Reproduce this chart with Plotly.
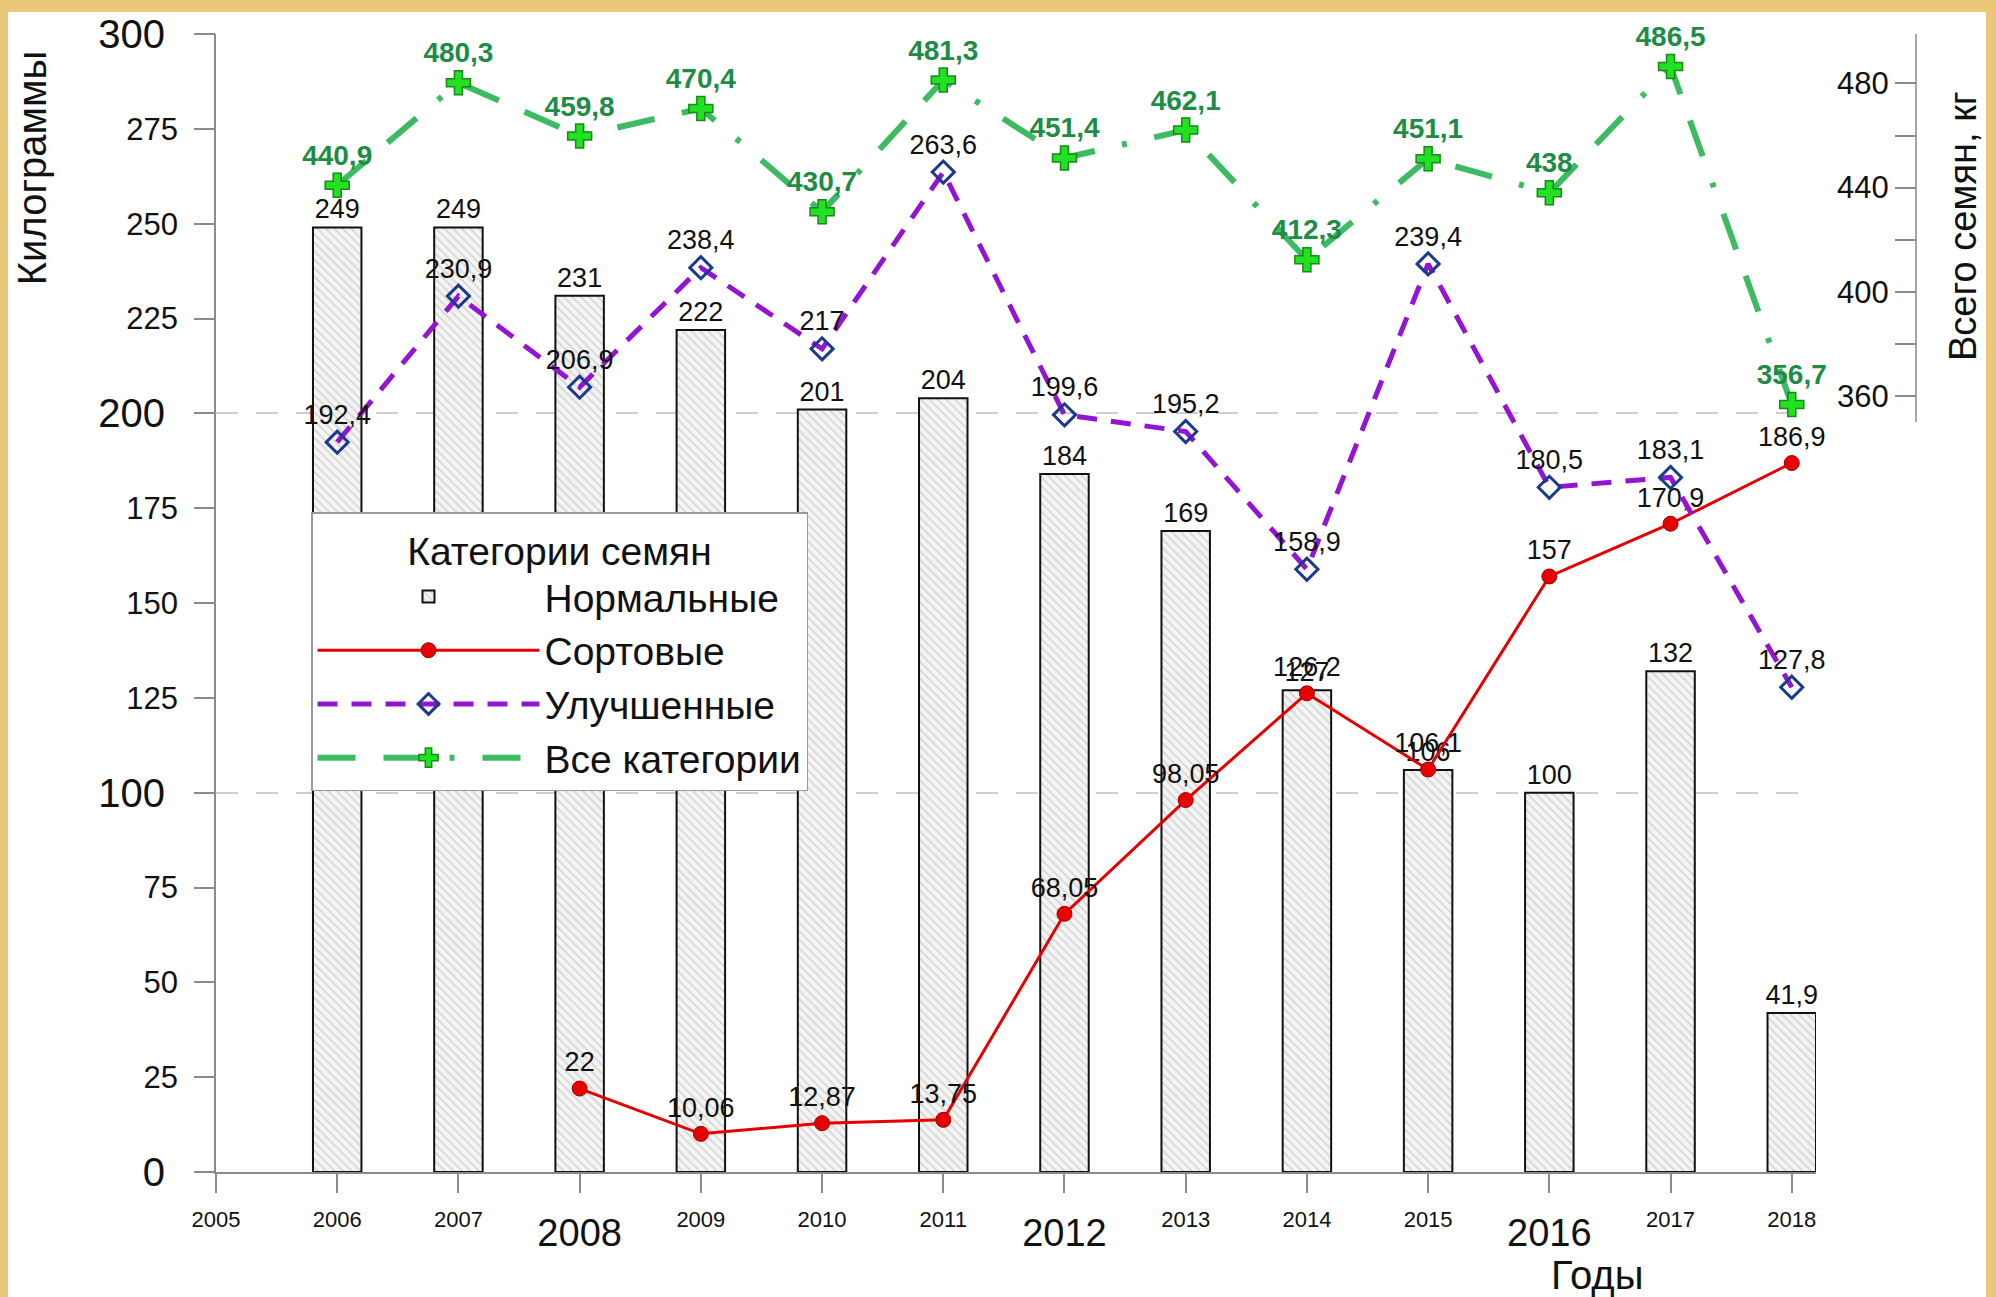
import plotly.graph_objects as go

# ---------------- data ----------------
years = [2006, 2007, 2008, 2009, 2010, 2011, 2012, 2013, 2014, 2015, 2016, 2017, 2018]
normal = [249, 249, 231, 222, 201, 204, 184, 169, 127, 106, 100, 132, 41.9]
sort_years = [2008, 2009, 2010, 2011, 2012, 2013, 2014, 2015, 2016, 2017, 2018]
sortovye = [22, 10.06, 12.87, 13.75, 68.05, 98.05, 126.2, 106.1, 157, 170.9, 186.9]
improved = [192.4, 230.9, 206.9, 238.4, 217, 263.6, 199.6, 195.2, 158.9, 239.4, 180.5, 183.1, 127.8]
total = [440.9, 480.3, 459.8, 470.4, 430.7, 481.3, 451.4, 462.1, 412.3, 451.1, 438, 486.5, 356.7]

x_ticks = list(range(2005, 2019))
x_big = [2008, 2012, 2016]
y_ticks = list(range(0, 301, 25))
y_big = [0, 100, 200, 300]
y2_ticks = [360, 380, 400, 420, 440, 460, 480, 500]
y2_labeled = [360, 400, 440, 480]

names = ["Нормальные", "Сортовые", "Улучшенные", "Все категории"]
legend_title = "Категории семян"
y_title = "Килограммы"
y2_title = "Всего семян, кг"
x_title = "Годы"

FONT = "Liberation Sans, Arial, sans-serif"


def fmt(v):
    return f"{v:g}".replace(".", ",")


W, H = 1996, 1297
ML, MR, MT, MB = 216, 80, 28, 125
PW = W - ML - MR
PH = H - MT - MB
x_dom_end = (1816 - ML) / PW


def px_x(p):
    return (p - ML) / PW


def px_y(p):
    return 1 - (p - MT) / PH


fig = go.Figure()

fig.add_trace(go.Bar(
    x=years, y=normal, name=names[0], width=0.4,
    marker=dict(color="#f2f2f2", line=dict(color="#111111", width=2),
                pattern=dict(shape="\\", fgcolor="#b8b8b8", bgcolor="#f4f4f4",
                             size=6, solidity=0.3)),
    text=[fmt(v) for v in normal], textposition="outside", constraintext="none",
    textfont=dict(size=27, color="#111111", family=FONT), cliponaxis=False,
))

fig.add_trace(go.Scatter(
    x=sort_years, y=sortovye, name=names[1], mode="lines+markers+text",
    line=dict(color="#e60000", width=3),
    marker=dict(symbol="circle", size=15, color="#e80000", line=dict(color="#9a0000", width=1)),
    text=[fmt(v) for v in sortovye], textposition="top center",
    textfont=dict(size=27, color="#111111", family=FONT), cliponaxis=False,
))

fig.add_trace(go.Scatter(
    x=years, y=improved, name=names[2], mode="lines+markers+text",
    line=dict(color="#9414d4", width=5, dash="20px,14px"),
    marker=dict(symbol="diamond-open", size=17, color="#1b3a8c", line=dict(width=3, color="#1b3a8c")),
    text=[fmt(v) for v in improved], textposition="top center",
    textfont=dict(size=27, color="#111111", family=FONT), cliponaxis=False,
))

fig.add_trace(go.Scatter(
    x=years, y=total, name=names[3], mode="lines+markers+text", yaxis="y2",
    line=dict(color="#3dbb62", width=6, dash="38px,28px,38px,28px,5px,28px"),
    marker=dict(symbol="cross", size=20, color="#22e022", line=dict(color="#178a17", width=1.5)),
    text=[fmt(v) for v in total], textposition="top center",
    textfont=dict(size=28, color="#1e8c46", family=FONT, weight="bold"), cliponaxis=False,
))

# helper invisible trace so the overlay axes exist
fig.add_trace(go.Scatter(x=[years[0]], y=[normal[0]], xaxis="x2", yaxis="y3", mode="markers",
                         marker=dict(opacity=0), showlegend=False, hoverinfo="skip"))

axis_col = "#8a8a8a"

fig.update_layout(
    width=W, height=H, autosize=False,
    margin=dict(l=ML, r=MR, t=MT, b=MB),
    paper_bgcolor="#e9c878", plot_bgcolor="rgba(0,0,0,0)",
    font=dict(family=FONT, color="#111111"),
    showlegend=True,
    xaxis=dict(domain=[0, x_dom_end], range=[2005, 2018.2], anchor="y",
               tickmode="array", tickvals=x_ticks,
               ticktext=["" if t in x_big else str(t) for t in x_ticks],
               ticks="outside", ticklen=19, tickwidth=1.5, tickcolor=axis_col,
               tickfont=dict(size=22, family=FONT, color="#111111"),
               showline=True, linecolor=axis_col, linewidth=1.5,
               showgrid=False, zeroline=False, ticklabelstandoff=8),
    xaxis2=dict(overlaying="x", matches="x", anchor="y",
                tickmode="array", tickvals=x_big, ticktext=[str(t) for t in x_big],
                ticks="outside", ticklen=19, tickwidth=1.5, tickcolor=axis_col,
                tickfont=dict(size=38, family=FONT, color="#111111"),
                showline=False, showgrid=False, zeroline=False, ticklabelstandoff=8),
    yaxis=dict(range=[0, 300], anchor="x",
               tickmode="array", tickvals=y_ticks,
               ticktext=["" if t in y_big else str(t) for t in y_ticks],
               ticks="outside", ticklen=20, tickwidth=1.5, tickcolor=axis_col,
               tickfont=dict(size=31, family=FONT, color="#111111"),
               showline=True, linecolor=axis_col, linewidth=1.5,
               showgrid=False, zeroline=False, ticklabelstandoff=10),
    yaxis3=dict(overlaying="y", matches="y", anchor="x", side="left",
                tickmode="array", tickvals=y_big, ticktext=[str(t) for t in y_big],
                ticks="outside", ticklen=20, tickwidth=1.5, tickcolor=axis_col,
                tickfont=dict(size=40, family=FONT, color="#111111"),
                showline=False, showgrid=True, gridcolor="#cfcfcf", gridwidth=2,
                griddash="22px,18px", zeroline=False, ticklabelstandoff=22),
    yaxis2=dict(overlaying="y", anchor="free", position=1, side="left",
                range=[62, 499], tickmode="array", tickvals=y2_ticks,
                ticktext=[str(t) if t in y2_labeled else "" for t in y2_ticks],
                ticks="outside", ticklen=21, tickwidth=1.5, tickcolor=axis_col,
                tickfont=dict(size=31, family=FONT, color="#111111"),
                showline=False, showgrid=False, zeroline=False),
    legend=dict(x=px_x(311), y=px_y(509), xanchor="left", yanchor="top",
                bgcolor="white", bordercolor="#9a9a9a", borderwidth=1.5,
                font=dict(size=39, family=FONT, color="#111111"),
                title=dict(text=legend_title, side="top center",
                           font=dict(size=39, family=FONT, color="#111111")),
                itemwidth=222, traceorder="normal"),
    shapes=[
        dict(type="rect", xref="paper", yref="paper", layer="below",
             x0=px_x(8), x1=px_x(1986), y0=px_y(1400), y1=px_y(6),
             fillcolor="white", line=dict(width=0)),
        dict(type="line", xref="paper", yref="y2", x0=1, x1=1, y0=350, y1=500,
             line=dict(color=axis_col, width=1.5)),
    ],
    annotations=[
        dict(text=y_title, xref="paper", yref="paper", x=px_x(32), y=px_y(163),
             xanchor="center", yanchor="middle",
             textangle=-90, showarrow=False, font=dict(size=40, family=FONT, color="#111111")),
        dict(text=y2_title, xref="paper", yref="paper", x=px_x(1963), y=px_y(221),
             xanchor="center", yanchor="middle",
             textangle=-90, showarrow=False, font=dict(size=38, family=FONT, color="#111111")),
        dict(text=x_title, xref="paper", yref="paper", x=px_x(1597), y=px_y(1276),
             xanchor="center", yanchor="middle",
             showarrow=False, font=dict(size=40, family=FONT, color="#111111")),
    ],
)

fig.write_html("out.html", config={"displayModeBar": False},
               post_script="document.body.style.margin='0';document.body.style.overflow='hidden';")
